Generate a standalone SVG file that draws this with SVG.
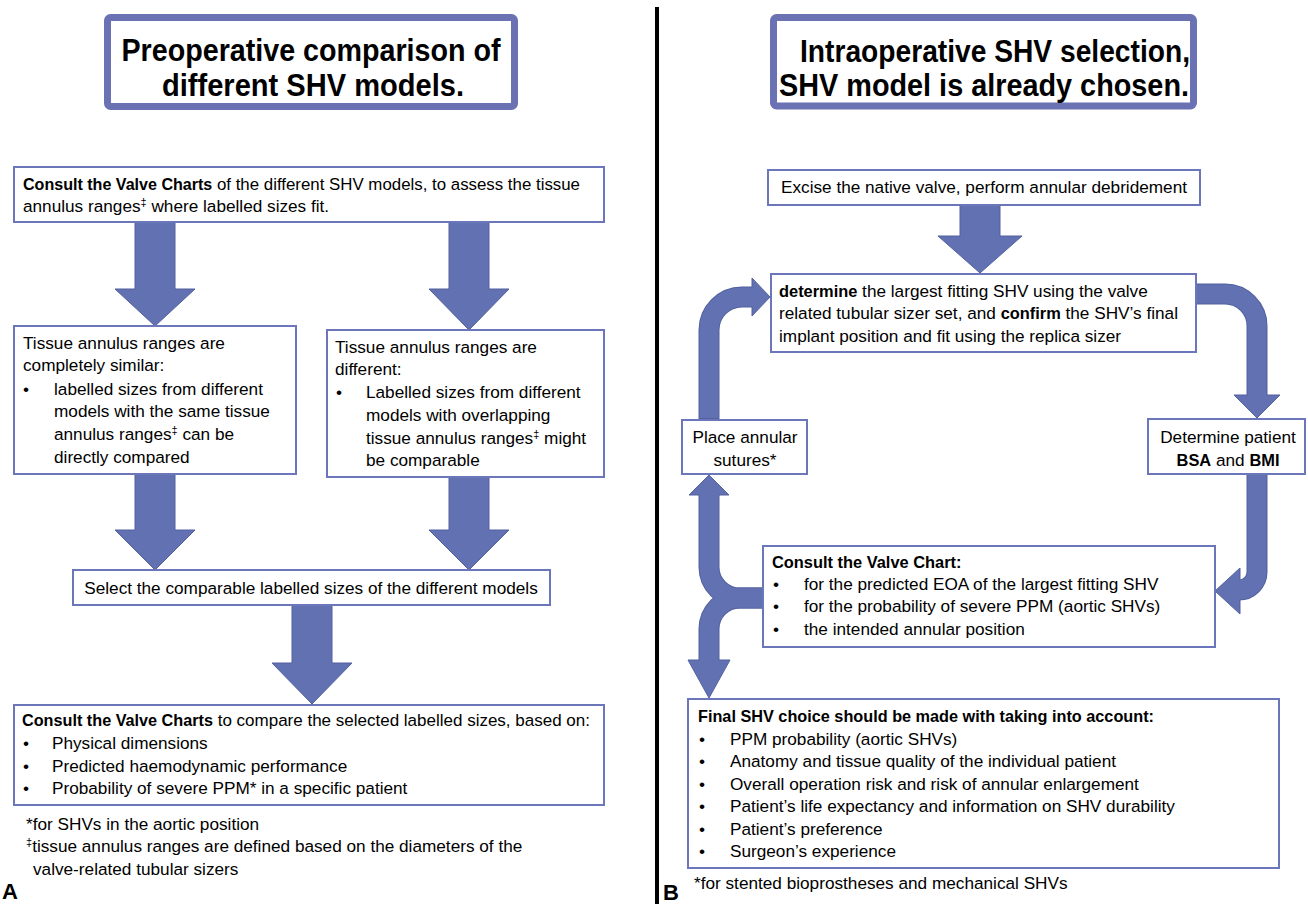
<svg xmlns="http://www.w3.org/2000/svg" width="1308" height="904" viewBox="0 0 1308 904">
<style>
.bg{fill:#fff}
.box{fill:#fff;stroke:#6B77BA;stroke-width:2}
.ttl{fill:#fff;stroke:#6A72B4;stroke-width:7}
.arrow{fill:#6271B1;stroke:#52619F;stroke-width:1}
.bo{fill:none;stroke:#52619F;stroke-width:21}
.bf{fill:none;stroke:#6271B1;stroke-width:19}
.t{font-family:"Liberation Sans",Arial,sans-serif;font-size:17.2px;fill:#000}
.c{text-anchor:middle}
.b{font-weight:bold;font-size:16.4px}
.h{font-family:"Liberation Sans",Arial,sans-serif;font-size:31px;font-weight:bold;text-anchor:middle;fill:#000}
.lab{font-family:"Liberation Sans",Arial,sans-serif;font-size:22px;font-weight:bold;fill:#000}
.sup{font-size:11px}
</style>
<rect class="bg" x="0" y="0" width="1308" height="904"/>
<line x1="657" y1="7" x2="657" y2="904" stroke="#000" stroke-width="4"/>

<g id="connectors">
  <!-- left panel block arrows -->
  <polygon class="arrow" points="135,222 175,222 175,289 195,289 155,326 115,289 135,289"/>
  <polygon class="arrow" points="449,222 489,222 489,289 509,289 469,330 429,289 449,289"/>
  <polygon class="arrow" points="135,474 175,474 175,530 195,530 155,570 115,530 135,530"/>
  <polygon class="arrow" points="449,477 489,477 489,530 509,530 469,570 429,530 449,530"/>
  <polygon class="arrow" points="292,605 332,605 332,663 352,663 312,704 272,663 292,663"/>
  <!-- right panel -->
  <polygon class="arrow" points="960,205 1000,205 1000,236 1022,236 980,273 938,236 960,236"/>
  <!-- curved band outlines -->
  <path class="bo" d="M709 419 V330 A33 33 0 0 1 742 297 H753"/>
  <path class="bo" d="M1195 294 H1225 A32 32 0 0 1 1257 326 V396"/>
  <path class="bo" d="M1257 474 V572 A18 18 0 0 1 1239 590 H1240"/>
  <path class="bo" d="M764 598 H740 A31 31 0 0 1 709 567 V494"/>
  <path class="bo" d="M764 598 H740 A31 31 0 0 0 709 629 V661"/>
  <!-- heads -->
  <polygon class="arrow" points="752,278 770,297 752,316"/>
  <polygon class="arrow" points="1234,395 1280,395 1257,418"/>
  <polygon class="arrow" points="1240,568 1240,614 1215,591"/>
  <polygon class="arrow" points="689,495 709,475 729,495"/>
  <polygon class="arrow" points="688,660 730,660 709,698"/>
  <!-- band fills -->
  <path class="bf" d="M709 418 V330 A33 33 0 0 1 742 297 H754"/>
  <path class="bf" d="M1196 294 H1225 A32 32 0 0 1 1257 326 V397"/>
  <path class="bf" d="M1257 475 V572 A18 18 0 0 1 1239 590 H1241"/>
  <path class="bf" d="M763 598 H740 A31 31 0 0 1 709 567 V493"/>
  <path class="bf" d="M763 598 H740 A31 31 0 0 0 709 629 V662"/>
</g>

<g id="titleA">
  <rect class="ttl" x="107.5" y="17.5" width="407" height="89" rx="3"/>
  <text class="h" x="311" y="61" textLength="379" lengthAdjust="spacingAndGlyphs">Preoperative comparison of</text>
  <text class="h" x="313" y="96" textLength="302" lengthAdjust="spacingAndGlyphs">different SHV models.</text>
</g>

<g id="consultCharts">
  <rect class="box" x="14" y="167" width="590" height="55"/>
  <text class="t" x="23" y="190" textLength="557" lengthAdjust="spacingAndGlyphs"><tspan class="b">Consult the Valve Charts</tspan> of the different SHV models, to assess the tissue</text>
  <text class="t" x="23" y="212">annulus ranges<tspan class="sup" dy="-6">‡</tspan><tspan dy="6"> where labelled sizes fit.</tspan></text>
</g>

<g id="similar">
  <rect class="box" x="14" y="326" width="282" height="148"/>
  <text class="t" x="23" y="349">Tissue annulus ranges are</text>
  <text class="t" x="23" y="371">completely similar:</text>
  <text class="t" x="23" y="395">•</text>
  <text class="t" x="54" y="395">labelled sizes from different</text>
  <text class="t" x="54" y="417">models with the same tissue</text>
  <text class="t" x="54" y="440">annulus ranges<tspan class="sup" dy="-6">‡</tspan><tspan dy="6"> can be</tspan></text>
  <text class="t" x="54" y="463">directly compared</text>
</g>

<g id="different">
  <rect class="box" x="327" y="330" width="277" height="147"/>
  <text class="t" x="335" y="353">Tissue annulus ranges are</text>
  <text class="t" x="335" y="375">different:</text>
  <text class="t" x="336" y="398">•</text>
  <text class="t" x="366" y="398">Labelled sizes from different</text>
  <text class="t" x="366" y="421">models with overlapping</text>
  <text class="t" x="366" y="444">tissue annulus ranges<tspan class="sup" dy="-6">‡</tspan><tspan dy="6"> might</tspan></text>
  <text class="t" x="366" y="466">be comparable</text>
</g>

<g id="select">
  <rect class="box" x="73" y="570" width="477" height="35"/>
  <text class="t c" x="311" y="594">Select the comparable labelled sizes of the different models</text>
</g>

<g id="compare">
  <rect class="box" x="14" y="705" width="590" height="100"/>
  <text class="t" x="22" y="726" textLength="568" lengthAdjust="spacingAndGlyphs"><tspan class="b">Consult the Valve Charts</tspan> to compare the selected labelled sizes, based on:</text>
  <text class="t" x="23" y="749">•</text><text class="t" x="52" y="749">Physical dimensions</text>
  <text class="t" x="23" y="772">•</text><text class="t" x="52" y="772">Predicted haemodynamic performance</text>
  <text class="t" x="23" y="794">•</text><text class="t" x="52" y="794">Probability of severe PPM* in a specific patient</text>
</g>

<g id="footA">
  <text class="t" x="26" y="830">*for SHVs in the aortic position</text>
  <text class="t" x="26" y="852"><tspan class="sup" dy="-6">‡</tspan><tspan dy="6">tissue annulus ranges are defined based on the diameters of the</tspan></text>
  <text class="t" x="33" y="875">valve-related tubular sizers</text>
  <text class="lab" x="2" y="899">A</text>
</g>

<g id="titleB">
  <rect class="ttl" x="773.5" y="17.5" width="420" height="88.5" rx="3"/>
  <text class="h" x="995" y="62" textLength="390" lengthAdjust="spacingAndGlyphs">Intraoperative SHV selection,</text>
  <text class="h" x="984" y="96" textLength="410" lengthAdjust="spacingAndGlyphs">SHV model is already chosen.</text>
</g>

<g id="excise">
  <rect class="box" x="768" y="170" width="432" height="35"/>
  <text class="t c" x="984" y="193">Excise the native valve, perform annular debridement</text>
</g>

<g id="determineLargest">
  <rect class="box" x="771" y="274" width="425" height="78"/>
  <text class="t" x="779" y="297"><tspan class="b">determine</tspan> the largest fitting SHV using the valve</text>
  <text class="t" x="779" y="319">related tubular sizer set, and <tspan class="b">confirm</tspan> the SHV’s final</text>
  <text class="t" x="779" y="342">implant position and fit using the replica sizer</text>
</g>

<g id="sutures">
  <rect class="box" x="682" y="420" width="125" height="54"/>
  <text class="t c" x="745" y="443">Place annular</text>
  <text class="t c" x="745" y="466">sutures*</text>
</g>

<g id="bsa">
  <rect class="box" x="1148" y="419" width="157" height="55"/>
  <text class="t c" x="1228" y="443">Determine patient</text>
  <text class="t c" x="1228" y="466"><tspan class="b">BSA</tspan> and <tspan class="b">BMI</tspan></text>
</g>

<g id="consultChart">
  <rect class="box" x="763" y="546" width="452" height="101"/>
  <text class="t b" x="772" y="568">Consult the Valve Chart:</text>
  <text class="t" x="773" y="590">•</text><text class="t" x="804" y="590">for the predicted EOA of the largest fitting SHV</text>
  <text class="t" x="773" y="612">•</text><text class="t" x="804" y="612">for the probability of severe PPM (aortic SHVs)</text>
  <text class="t" x="773" y="635">•</text><text class="t" x="804" y="635">the intended annular position</text>
</g>

<g id="finalChoice">
  <rect class="box" x="688" y="699" width="591" height="169"/>
  <text class="t b" x="698" y="722" textLength="456" lengthAdjust="spacingAndGlyphs">Final SHV choice should be made with taking into account:</text>
  <text class="t" x="699" y="745">•</text><text class="t" x="730" y="745">PPM probability (aortic SHVs)</text>
  <text class="t" x="699" y="767">•</text><text class="t" x="730" y="767">Anatomy and tissue quality of the individual patient</text>
  <text class="t" x="699" y="790">•</text><text class="t" x="730" y="790">Overall operation risk and risk of annular enlargement</text>
  <text class="t" x="699" y="812">•</text><text class="t" x="730" y="812">Patient’s life expectancy and information on SHV durability</text>
  <text class="t" x="699" y="835">•</text><text class="t" x="730" y="835">Patient’s preference</text>
  <text class="t" x="699" y="857">•</text><text class="t" x="730" y="857">Surgeon’s experience</text>
</g>

<g id="footB">
  <text class="t" x="694" y="889">*for stented bioprostheses and mechanical SHVs</text>
  <text class="lab" x="663" y="900">B</text>
</g>
</svg>
